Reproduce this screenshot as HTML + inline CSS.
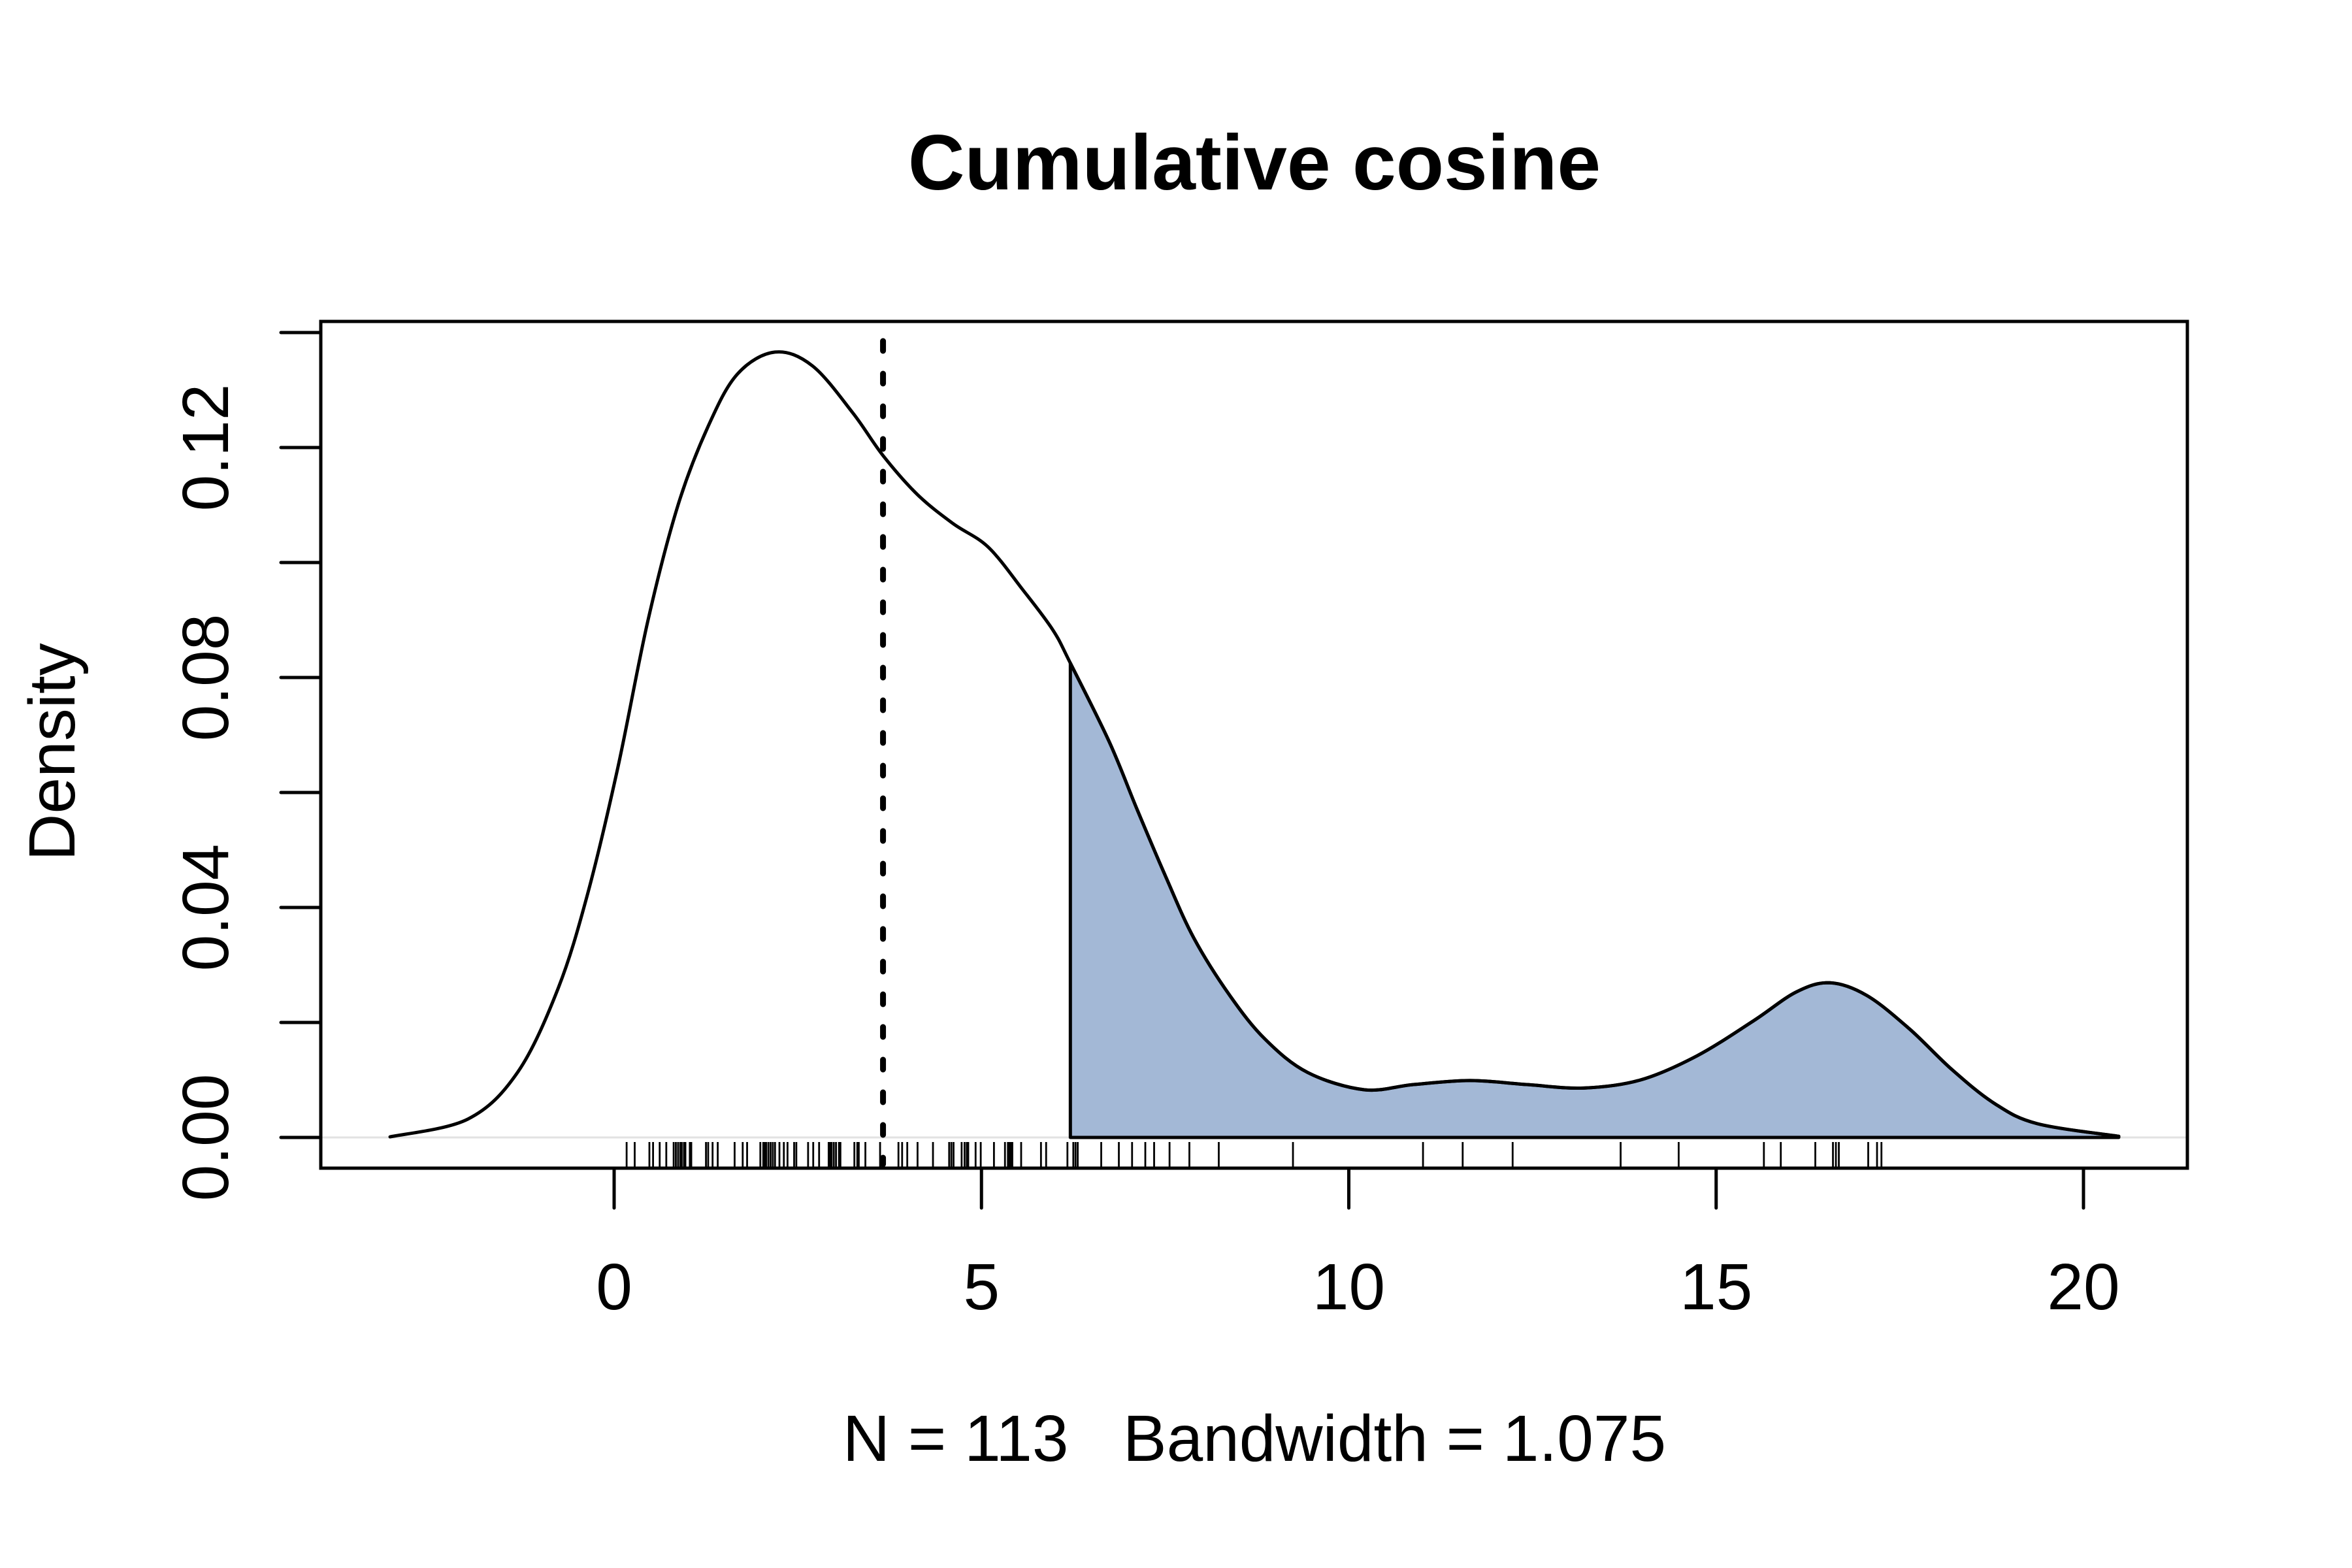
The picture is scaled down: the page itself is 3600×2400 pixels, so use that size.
<!DOCTYPE html>
<html><head><meta charset="utf-8"><style>
html,body{margin:0;padding:0;background:#fff;}
svg{display:block;font-family:"Liberation Sans",Arial,sans-serif;}
</style></head><body>
<svg id="chart" width="3600" height="2400" viewBox="0 0 3600 2400" xmlns="http://www.w3.org/2000/svg">
<rect x="0" y="0" width="3600" height="2400" fill="#fff"/>
<text x="1920" y="290" text-anchor="middle" font-size="120" font-weight="bold">Cumulative cosine</text>
<text x="1920" y="2236" text-anchor="middle" font-size="100" style="white-space:pre" xml:space="preserve">N = 113   Bandwidth = 1.075</text>
<text transform="translate(114,1151) rotate(-90)" text-anchor="middle" font-size="100">Density</text>
<g id="plot"></g>
</svg>
<script>
const curveX = [-3.05,-1.99,-1.31,-0.76,-0.36,0.05,0.46,0.87,1.28,1.68,2.19,2.70,3.25,3.66,4.13,4.61,5.09,5.56,5.97,6.21,6.74,7.12,7.51,7.89,8.38,8.86,9.44,10.21,10.88,11.65,12.42,13.20,13.97,14.74,15.51,16.09,16.55,17.05,17.63,18.21,18.79,19.37,20.48];
const curveY = [0.0001,0.0032,0.0114,0.0260,0.0424,0.0643,0.0899,0.1100,0.1237,0.1328,0.1366,0.1342,0.1260,0.1186,0.1118,0.1068,0.1027,0.0953,0.0883,0.0825,0.0688,0.0570,0.0453,0.0347,0.0247,0.0171,0.0113,0.0083,0.0092,0.0099,0.0092,0.0086,0.0100,0.0142,0.0203,0.0253,0.0269,0.0247,0.0189,0.0118,0.0059,0.0024,0.0002];
const rugValues = [0.17,0.28,0.48,0.53,0.62,0.71,0.81,0.84,0.87,0.90,0.92,0.95,0.97,1.03,1.05,1.25,1.28,1.34,1.41,1.64,1.75,1.81,1.99,2.03,2.05,2.07,2.10,2.13,2.16,2.19,2.25,2.31,2.36,2.45,2.48,2.64,2.71,2.79,2.92,2.94,2.96,2.99,3.02,3.06,3.08,3.27,3.31,3.33,3.42,3.62,3.87,3.92,3.99,4.13,4.34,4.56,4.59,4.62,4.73,4.77,4.80,4.82,4.92,4.99,5.17,5.32,5.36,5.38,5.40,5.42,5.54,5.81,5.88,6.17,6.25,6.28,6.31,6.63,6.87,7.05,7.23,7.35,7.56,7.83,8.23,9.24,11.01,11.55,12.23,13.70,14.49,15.65,15.88,16.35,16.59,16.63,16.67,17.07,17.19,17.25];
const xTicks = [0,5,10,15,20];
const xTickLabels = ["0","5","10","15","20"];
const yTicks = [0,0.02,0.04,0.06,0.08,0.10,0.12,0.14];
const yTickLabels = ["0.00","","0.04","","0.08","","0.12",""];
const meanLine = 3.66;
const shadeFrom = 6.21;

const NS = "http://www.w3.org/2000/svg";
const g = document.getElementById('plot');
const box = {l:491, r:3348, t:492, b:1788};
function xs(v){ return 940 + v*112.45; }
function ys(d){ return 1741 - d*8800; }
function mk(tag, attrs){ const e=document.createElementNS(NS,tag); for(const k in attrs) e.setAttribute(k,attrs[k]); g.appendChild(e); return e; }

function smoothPath(pts){
  let d = "M"+pts[0][0]+","+pts[0][1];
  for(let i=0;i<pts.length-1;i++){
    const p0=pts[Math.max(0,i-1)], p1=pts[i], p2=pts[i+1], p3=pts[Math.min(pts.length-1,i+2)];
    const c1x=p1[0]+(p2[0]-p0[0])/6, c1y=p1[1]+(p2[1]-p0[1])/6;
    const c2x=p2[0]-(p3[0]-p1[0])/6, c2y=p2[1]-(p3[1]-p1[1])/6;
    d += " C"+c1x+","+c1y+" "+c2x+","+c2y+" "+p2[0]+","+p2[1];
  }
  return d;
}
function interpY(x){
  for(let i=0;i<curveX.length-1;i++){
    if(x>=curveX[i] && x<=curveX[i+1]){ const t=(x-curveX[i])/(curveX[i+1]-curveX[i]); return curveY[i]+t*(curveY[i+1]-curveY[i]); }
  }
  return 0;
}

const zl = mk('line',{x1:box.l,x2:box.r,y1:ys(0),y2:ys(0),stroke:'#e2e2e2','stroke-width':3});



const shadePts = [[xs(shadeFrom), ys(interpY(shadeFrom))]];
for(let i=0;i<curveX.length;i++){ if(curveX[i]>shadeFrom) shadePts.push([xs(curveX[i]), ys(curveY[i])]); }
const sd = smoothPath(shadePts) + " L"+xs(curveX[curveX.length-1])+","+ys(0)+" L"+xs(shadeFrom)+","+ys(0)+" Z";
const sh = mk('path',{d:sd,fill:'#a3b8d6',stroke:'#000','stroke-width':5,'stroke-linejoin':'round'});



const cpts = curveX.map((x,i)=>[xs(x),ys(curveY[i])]);
const cv = mk('path',{d:smoothPath(cpts),fill:'none',stroke:'#000','stroke-width':5,'stroke-linecap':'round'});



const ml = mk('line',{x1:xs(meanLine),x2:xs(meanLine),y1:522,y2:1782,stroke:'#000','stroke-width':9,'stroke-dasharray':'15 35','stroke-linecap':'round'});



rugValues.forEach(v=>{
  const r = mk('line',{x1:xs(v),x2:xs(v),y1:1748,y2:1788,stroke:'#000','stroke-width':2.8});
  
  
});

const bx = mk('rect',{x:box.l,y:box.t,width:box.r-box.l,height:box.b-box.t,fill:'none',stroke:'#000','stroke-width':5});



const xa = mk('line',{x1:xs(xTicks[0]),x2:xs(xTicks[xTicks.length-1]),y1:box.b,y2:box.b,stroke:'#000','stroke-width':5});


xTicks.forEach((v,i)=>{
  const t = mk('line',{x1:xs(v),x2:xs(v),y1:box.b,y2:1849,stroke:'#000','stroke-width':5,'stroke-linecap':'round'});
  
  
  const l = mk('text',{x:xs(v),y:2004,'text-anchor':'middle','font-size':100});
  l.textContent = xTickLabels[i];
  
  
});

const ya = mk('line',{x1:box.l,x2:box.l,y1:ys(yTicks[0]),y2:ys(yTicks[yTicks.length-1]),stroke:'#000','stroke-width':5});


yTicks.forEach((v,i)=>{
  const t = mk('line',{x1:430,x2:box.l,y1:ys(v),y2:ys(v),stroke:'#000','stroke-width':5,'stroke-linecap':'round'});
  
  
  if(yTickLabels[i]){
    const l = mk('text',{transform:'translate(349,'+ys(v)+') rotate(-90)','text-anchor':'middle','font-size':100});
    l.textContent = yTickLabels[i];
    
    
  }
});
</script>
</body></html>
